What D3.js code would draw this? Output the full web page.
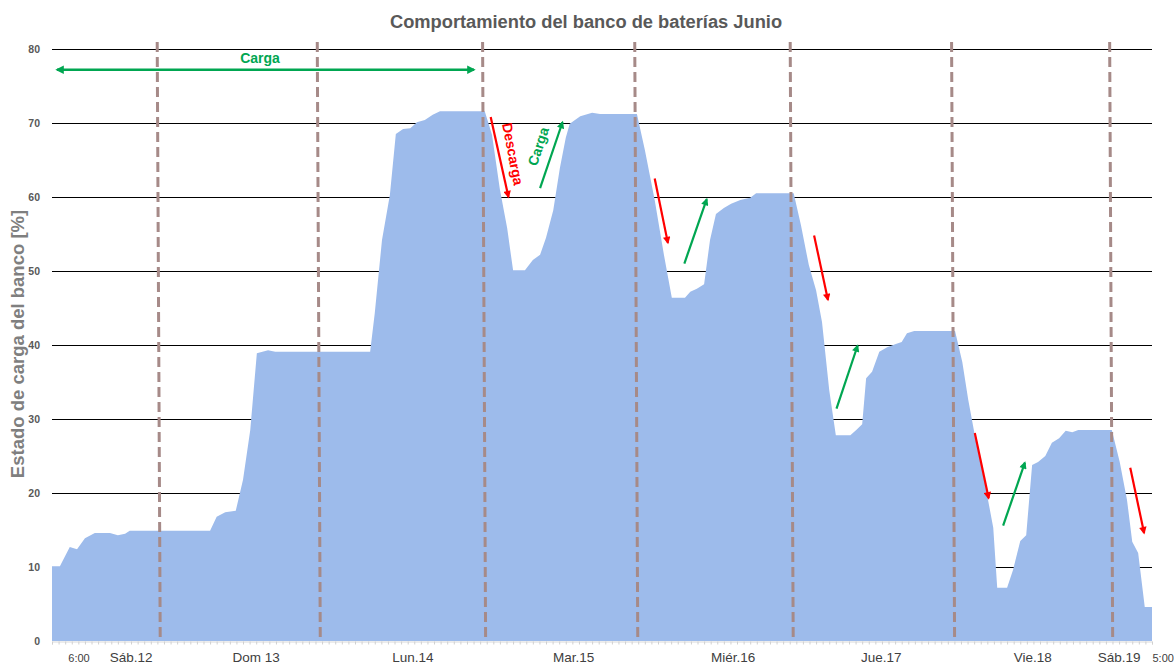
<!DOCTYPE html>
<html>
<head>
<meta charset="utf-8">
<script src="https://cdn.jsdelivr.net/npm/d3@7"></script>
<style>
  body { margin: 0; background: #fff; }
  text { font-family: "Liberation Sans", Arial, sans-serif; }
</style>
</head>
<body>
<script>
// hours since Sáb 12 6:00 and state of charge [%]
const hours = [0, 1.2, 2.7, 3.8, 5.0, 6.5, 8.8, 10.0, 11.1, 11.8, 24.0, 25.0, 26.3, 27.9, 29.0, 30.1, 31.1, 32.8, 33.9,
  48.3, 49.0, 50.1, 51.3, 52.2, 53.3, 54.4, 55.4, 56.6, 57.8, 58.9, 65.7, 66.8, 68.0, 69.1, 70.0, 71.8, 73.0, 74.1,
  75.0, 76.1, 77.1, 78.0, 78.6, 80.2, 82.0, 83.2, 88.8, 90.0, 91.5, 92.9, 94.1, 96.1, 96.9, 97.9, 99.0, 99.9, 100.8,
  102.0, 103.1, 104.5, 106.0, 106.9, 112.6, 113.7, 114.9, 116.0, 116.9, 118.0, 119.0, 121.2, 122.1, 123.0, 123.6,
  124.5, 125.6, 126.8, 128.0, 129.0, 129.8, 130.9, 137.1, 138.2, 139.1, 140.1, 141.2, 142.1, 142.9, 143.5, 145.0,
  145.9, 147.0, 147.9, 148.8, 149.7, 150.8, 151.8, 152.9, 153.9, 154.9, 155.8, 160.9, 162.1, 163.2, 164.0, 164.9,
  165.9, 167.0];
const soc = [10.1, 10.1, 12.7, 12.4, 13.9, 14.6, 14.6, 14.3, 14.5, 14.9, 14.9, 16.8, 17.4, 17.6, 21.8, 28.5, 38.9, 39.3, 39.1,
  39.1, 44.3, 54.2, 60.3, 68.5, 69.2, 69.3, 70.1, 70.4, 71.1, 71.6, 71.6, 68.4, 61.0, 55.8, 50.1, 50.1, 51.5, 52.2,
  54.5, 58.2, 63.9, 68.0, 69.9, 70.9, 71.4, 71.2, 71.2, 66.4, 59.6, 52.2, 46.4, 46.4, 47.2, 47.6, 48.2, 54.2, 57.7,
  58.5, 59.1, 59.6, 59.9, 60.5, 60.5, 56.2, 50.8, 47.4, 43.1, 33.9, 27.8, 27.8, 28.5, 29.3, 35.5,
  36.4, 39.1, 39.7, 40.1, 40.4, 41.6, 41.9, 41.9, 37.7, 32.6, 27.8, 23.4, 19.1, 15.3, 7.2, 7.2,
  9.6, 13.5, 14.3, 23.8, 24.2, 25.0, 26.8, 27.4, 28.4, 28.2, 28.5, 28.5, 24.2, 19.1, 13.4, 11.9,
  4.6, 4.6];

const dayLines = [16.2, 40.5, 65.6, 88.7, 112.3, 136.8, 160.8];
const dayLabels = ['6:00', 'Sáb.12', 'Dom 13', 'Lun.14', 'Mar.15', 'Miér.16', 'Jue.17', 'Vie.18', 'Sáb.19', '5:00'];
const dayLabelHours = [4.1, 12.0, 31.0, 54.8, 79.2, 103.4, 125.9, 148.9, 162.0, 168.7];
const yTicks = [0, 10, 20, 30, 40, 50, 60, 70, 80];

// arrows: [startHour, startValue, endHour, endValue]
const cargaArrows = [[74.1, 61.2, 77.5, 70.1], [96.0, 51.0, 99.4, 59.7], [119.1, 31.4, 122.3, 39.9], [144.4, 15.6, 147.7, 24.1]];
const descargaArrows = [[66.6, 70.8, 69.3, 60.0], [91.5, 62.5, 93.5, 53.8], [115.7, 54.8, 117.8, 46.1], [140.1, 28.1, 142.2, 19.3], [163.7, 23.4, 165.8, 14.6]];

const width = 1174, height = 665;
const m = { left: 52, right: 1152, top: 49, bottom: 641 };
const green = '#00a651', red = '#ff0000';

const svg = d3.select('body').append('svg')
  .attr('width', width)
  .attr('height', height);

const defs = svg.append('defs');
[['g', green], ['r', red]].forEach(([id, c]) => {
  defs.append('marker')
    .attr('id', 'ah-' + id)
    .attr('viewBox', '0 0 10 10')
    .attr('refX', 8).attr('refY', 5)
    .attr('markerWidth', 3.8).attr('markerHeight', 3.4)
    .attr('orient', 'auto-start-reverse')
    .append('path')
    .attr('d', 'M0,0 L10,5 L0,10 z')
    .attr('fill', c);
});

const x = d3.scaleLinear().domain([0, 167]).range([m.left, m.right]);
const y = d3.scaleLinear().domain([0, 80]).range([m.bottom, m.top]);

svg.append('text')
  .text('Comportamiento del banco de baterías Junio')
  .attr('x', 586).attr('y', 28)
  .attr('text-anchor', 'middle')
  .attr('font-size', 18.3).attr('font-weight', 'bold')
  .attr('fill', '#595959');

// gridlines
svg.append('g').selectAll('line')
  .data(yTicks.filter(d => d > 0))
  .enter().append('line')
  .attr('x1', m.left).attr('x2', m.right)
  .attr('y1', d => Math.round(y(d)) + 0.5).attr('y2', d => Math.round(y(d)) + 0.5)
  .attr('stroke', '#000').attr('stroke-width', 1);

const yAxis = d3.axisLeft(y).tickValues(yTicks).tickSize(0).tickPadding(12);
svg.append('g')
  .attr('transform', 'translate(' + m.left + ',0)')
  .call(yAxis)
  .call(g => g.select('.domain').remove())
  .selectAll('text')
  .attr('font-size', 10.5).attr('font-weight', 'bold')
  .attr('font-family', '"DejaVu Serif", serif')
  .attr('fill', '#595959');

svg.append('text')
  .text('Estado de carga del banco  [%]')
  .attr('transform', 'translate(24,' + 344 + ') rotate(-90)')
  .attr('text-anchor', 'middle')
  .attr('font-size', 18.5).attr('font-weight', 'bold')
  .attr('fill', '#7f7f7f');

const data = hours.map((h, i) => [h, soc[i]]);
const area = d3.area()
  .x(d => x(d[0]))
  .y0(y(0))
  .y1(d => y(d[1]));

svg.append('path')
  .datum(data)
  .attr('d', area)
  .attr('fill', '#9dbbeb');

// bottom axis
const xAxis = d3.axisBottom(x).tickValues(d3.range(0, 168, 1)).tickSize(3).tickFormat('');
svg.append('g')
  .attr('transform', 'translate(0,' + (m.bottom + 0.5) + ')')
  .call(xAxis)
  .call(g => g.select('.domain').attr('stroke', '#d9d9d9'))
  .call(g => g.selectAll('.tick line').attr('stroke', '#d0d0d0'));

svg.append('g').selectAll('text')
  .data(dayLabels)
  .enter().append('text')
  .text(d => d)
  .attr('x', (d, i) => x(dayLabelHours[i]))
  .attr('y', 662)
  .attr('text-anchor', 'middle')
  .attr('font-family', '"Liberation Sans Narrow", "Liberation Sans", Arial, sans-serif')
  .attr('font-size', (d, i) => (i === 0 || i === dayLabels.length - 1) ? 11 : 13.5)
  .attr('fill', '#404040');

// day separators
svg.append('g').selectAll('line')
  .data(dayLines)
  .enter().append('line')
  .attr('x1', d => x(d) - 1.5).attr('x2', d => x(d) + 1.5)
  .attr('y1', 42).attr('y2', 638)
  .attr('stroke', '#a68a88')
  .attr('stroke-width', 3)
  .attr('stroke-dasharray', '10,5');

// long charge arrow
svg.append('line')
  .attr('x1', 57).attr('x2', 474)
  .attr('y1', y(77.2)).attr('y2', y(77.2))
  .attr('stroke', green).attr('stroke-width', 2.5)
  .attr('marker-start', 'url(#ah-g)')
  .attr('marker-end', 'url(#ah-g)');
svg.append('text')
  .text('Carga')
  .attr('x', 260).attr('y', 63)
  .attr('text-anchor', 'middle')
  .attr('font-size', 14).attr('font-weight', 'bold')
  .attr('fill', green);

function arrows(list, color, id) {
  svg.append('g').selectAll('line')
    .data(list)
    .enter().append('line')
    .attr('x1', d => x(d[0])).attr('y1', d => y(d[1]))
    .attr('x2', d => x(d[2])).attr('y2', d => y(d[3]))
    .attr('stroke', color).attr('stroke-width', 2.2)
    .attr('marker-end', 'url(#ah-' + id + ')');
}
arrows(cargaArrows, green, 'g');
arrows(descargaArrows, red, 'r');

svg.append('text')
  .text('Descarga')
  .attr('transform', 'translate(508,155) rotate(79)')
  .attr('text-anchor', 'middle')
  .attr('font-size', 14).attr('font-weight', 'bold')
  .attr('fill', red);
svg.append('text')
  .text('Carga')
  .attr('transform', 'translate(543,148) rotate(-72)')
  .attr('text-anchor', 'middle')
  .attr('font-size', 14).attr('font-weight', 'bold')
  .attr('fill', green);
</script>
</body>
</html>
